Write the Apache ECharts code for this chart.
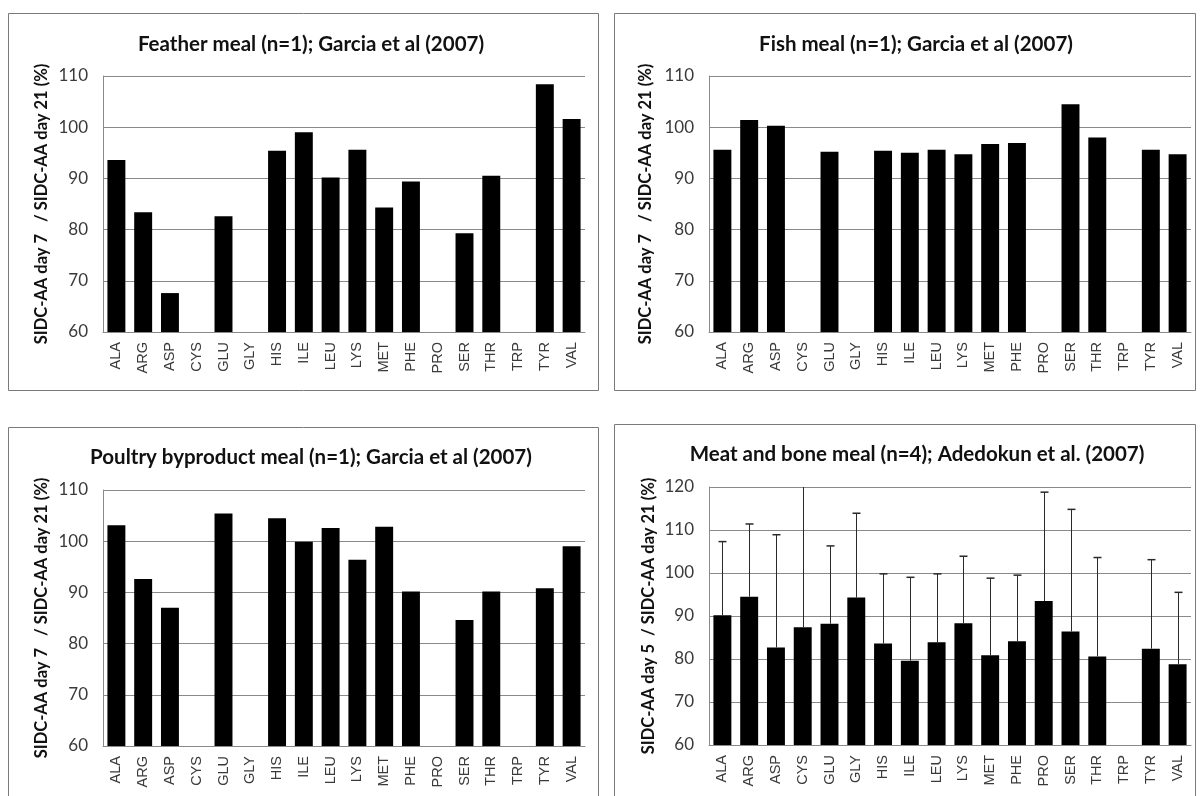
<!DOCTYPE html>
<html>
<head>
<meta charset="utf-8">
<script src="https://cdn.jsdelivr.net/npm/echarts@6/dist/echarts.min.js"></script>
<style>
  html, body { margin: 0; padding: 0; background: #fff; }
  #chart { width: 1200px; height: 796px; }
</style>
</head>
<body>
<div id="chart"></div>
<script>
// Amino acid categories shared by all four panels
const aminoAcids = ['ALA','ARG','ASP','CYS','GLU','GLY','HIS','ILE','LEU','LYS','MET','PHE','PRO','SER','THR','TRP','TYR','VAL'];

// SIDC-AA ratios (%), null = not reported
const featherMeal = [93.6, 83.4, 67.6, null, 82.6, null, 95.4, 99.0, 90.2, 95.6, 84.3, 89.4, null, 79.3, 90.5, null, 108.4, 101.6];
const fishMeal    = [95.6, 101.4, 100.3, null, 95.2, null, 95.4, 95.0, 95.6, 94.7, 96.7, 96.9, null, 104.5, 98.0, null, 95.6, 94.7];
const poultryMeal = [103.1, 92.6, 87.0, null, 105.4, null, 104.5, 99.9, 102.6, 96.4, 102.8, 90.2, null, 84.6, 90.2, null, 90.8, 99.0];
const meatBoneMeal = [90.2, 94.5, 82.7, 87.4, 88.2, 94.3, 83.6, 79.6, 83.9, 88.3, 80.9, 84.1, 93.5, 86.4, 80.6, null, 82.4, 78.8];
// upper end of the error bar (mean + SD)
const meatBoneUpper = [107.3, 111.4, 108.9, 128.0, 106.3, 113.9, 99.8, 99.0, 99.8, 103.9, 98.8, 99.5, 118.8, 114.8, 103.6, null, 103.1, 95.5];

const titles = [
  'Feather meal (n=1); Garcia et al (2007)',
  'Fish meal (n=1); Garcia et al (2007)',
  'Poultry byproduct meal (n=1); Garcia et al (2007)',
  'Meat and bone meal (n=4); Adedokun et al. (2007)'
];
const yNames = [
  'SIDC-AA day 7   / SIDC-AA day 21 (%)',
  'SIDC-AA day 7   / SIDC-AA day 21 (%)',
  'SIDC-AA day 7   / SIDC-AA day 21 (%)',
  'SIDC-AA day 5  / SIDC-AA day 21 (%)'
];
const yMax = [110, 110, 110, 120];
const panelData = [featherMeal, fishMeal, poultryMeal, meatBoneMeal];

// layout of each panel: frame box, plot grid, title position, axis-name gap
const panels = [
  { box: [8, 13, 590, 377], grid: { left: 103, top: 76, width: 482, height: 256 }, titleX: 306, titleY: 29, nameGap: 53 },
  { box: [614, 13, 581, 377], grid: { left: 709, top: 76, width: 482, height: 256 }, titleX: 911, titleY: 29, nameGap: 55 },
  { box: [8, 427, 590, 380], grid: { left: 103, top: 490, width: 482, height: 256 }, titleX: 306, titleY: 442, nameGap: 53 },
  { box: [614, 424, 581, 380], grid: { left: 709, top: 487, width: 482, height: 258 }, titleX: 912, titleY: 439, nameGap: 52 }
];

const axisGray = '#8a8a8a';
const textGray = '#3a3a3a';

const option = {
  animation: false,
  backgroundColor: '#fff',
  graphic: panels.map(p => ({
    type: 'rect',
    shape: { x: p.box[0] + 0.5, y: p.box[1] + 0.5, width: p.box[2], height: p.box[3] },
    style: { fill: 'none', stroke: '#7a7a7a', lineWidth: 1 },
    silent: true
  })),
  title: panels.map((p, i) => ({
    text: titles[i],
    left: p.titleX,
    top: p.titleY,
    textAlign: 'center',
    textStyle: { fontFamily: 'Lato', fontWeight: 'bold', fontSize: 20.5, color: '#111' }
  })),
  grid: panels.map(p => Object.assign({ containLabel: false }, p.grid)),
  xAxis: panels.map((p, i) => ({
    type: 'category',
    gridIndex: i,
    data: aminoAcids,
    axisLine: { lineStyle: { color: axisGray, width: 1 } },
    axisTick: { show: false },
    axisLabel: { rotate: 90, interval: 0, margin: 10, color: textGray, fontFamily: 'Liberation Sans', fontSize: 14.5 }
  })),
  yAxis: panels.map((p, i) => ({
    type: 'value',
    gridIndex: i,
    min: 60,
    max: yMax[i],
    interval: 10,
    name: yNames[i],
    nameLocation: 'middle',
    nameGap: p.nameGap,
    nameRotate: 90,
    nameTextStyle: { fontFamily: 'Lato', fontWeight: 'bold', fontSize: 16.5, color: '#111' },
    axisLine: { show: true, lineStyle: { color: axisGray, width: 1 } },
    axisTick: { show: false },
    splitLine: { show: true, lineStyle: { color: axisGray, width: 1 } },
    axisLabel: { color: textGray, fontFamily: 'Lato', fontSize: 17, margin: 15 }
  })),
  series: [
    ...panelData.map((d, i) => ({
      type: 'bar',
      xAxisIndex: i,
      yAxisIndex: i,
      data: d,
      barCategoryGap: '33%',
      itemStyle: { color: '#000' },
      silent: true
    })),
    {
      type: 'custom',
      xAxisIndex: 3,
      yAxisIndex: 3,
      silent: true,
      data: meatBoneMeal.map((v, k) => [k, v, meatBoneUpper[k]]).filter(r => r[1] != null),
      renderItem: function (params, api) {
        const idx = api.value(0);
        const base = api.coord([idx, api.value(1)]);
        const upperVal = api.value(2);
        const clipped = upperVal > yMax[3];
        const top = api.coord([idx, Math.min(upperVal, yMax[3])]);
        const x = Math.round(base[0]) + 0.5;
        const children = [{
          type: 'line',
          shape: { x1: x, y1: base[1], x2: x, y2: top[1] },
          style: { stroke: '#2a2a2a', lineWidth: 1 }
        }];
        if (!clipped) {
          children.push({
            type: 'line',
            shape: { x1: x - 4, y1: top[1], x2: x + 4, y2: top[1] },
            style: { stroke: '#2a2a2a', lineWidth: 1.5 }
          });
        }
        return { type: 'group', children: children };
      },
      z: 5
    }
  ]
};

const chart = echarts.init(document.getElementById('chart'), null, { renderer: 'canvas' });
chart.setOption(option);
</script>
</body>
</html>
